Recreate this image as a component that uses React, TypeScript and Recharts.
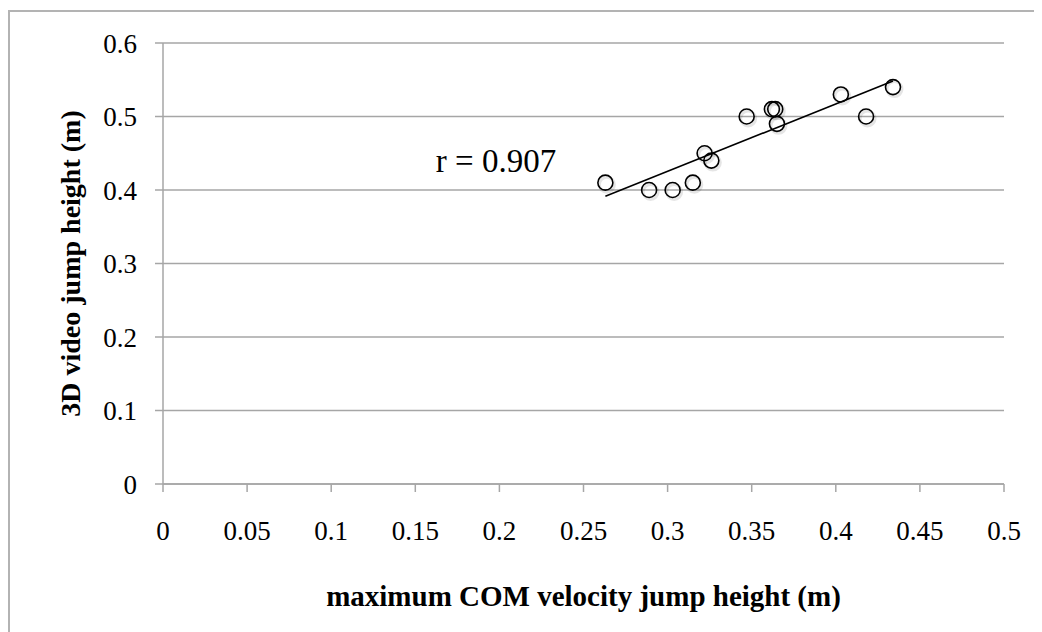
import {
  CartesianGrid,
  Label,
  ReferenceDot,
  Scatter,
  ScatterChart,
  XAxis,
  YAxis,
} from "recharts";

const comHeight = [0.263, 0.289, 0.303, 0.315, 0.322, 0.326, 0.347, 0.362, 0.364, 0.365, 0.403, 0.418, 0.434];
const videoHeight = [0.41, 0.4, 0.4, 0.41, 0.45, 0.44, 0.5, 0.51, 0.51, 0.49, 0.53, 0.5, 0.54];

const xTicks = [0, 0.05, 0.1, 0.15, 0.2, 0.25, 0.3, 0.35, 0.4, 0.45, 0.5];
const yTicks = [0, 0.1, 0.2, 0.3, 0.4, 0.5, 0.6];

const rLabel = "r = 0.907";

const FONT = "'Liberation Serif', 'Times New Roman', serif";
const GRID = "#a6a6a6";

const points = comHeight.map((x, i) => ({ x, y: videoHeight[i] }));

// least squares trend line through the points
function trend() {
  const n = comHeight.length;
  const mx = comHeight.reduce((a, b) => a + b, 0) / n;
  const my = videoHeight.reduce((a, b) => a + b, 0) / n;
  let sxy = 0;
  let sxx = 0;
  comHeight.forEach((x, i) => {
    sxy += (x - mx) * (videoHeight[i] - my);
    sxx += (x - mx) * (x - mx);
  });
  const slope = sxy / sxx;
  const lo = Math.min(...comHeight);
  const hi = Math.max(...comHeight);
  return [
    { x: lo, y: my + slope * (lo - mx) },
    { x: hi, y: my + slope * (hi - mx) },
  ];
}

const Ring = (props: any) => (
  <g>
    <circle cx={props.cx + 1.5} cy={props.cy + 2} r={7.5} fill="none" stroke="#000" strokeOpacity={0.1} strokeWidth={3} />
    <circle cx={props.cx} cy={props.cy} r={7.5} fill="none" stroke="#000" strokeWidth={1.6} />
  </g>
);

export default function App() {
  return (
    <div style={{ position: "relative", width: 1034, height: 624, fontFamily: FONT }}>
      <div
        style={{
          position: "absolute",
          top: 2,
          left: 0,
          width: 1034,
          height: 622,
          borderTop: "2px solid #b3b3b3",
          borderLeft: "2px solid #b3b3b3",
          boxSizing: "border-box",
        }}
      />
      <ScatterChart
        width={1034}
        height={624}
        margin={{ top: 35, right: 38, bottom: 88, left: 0 }}
        style={{ position: "absolute", top: 0, left: 0 }}
      >
        <CartesianGrid vertical={false} stroke={GRID} strokeWidth={1.5} />
        <XAxis
          type="number"
          dataKey="x"
          domain={[0, 0.5]}
          ticks={xTicks}
          height={60}
          tickSize={8}
          tickMargin={29}
          stroke={GRID}
          strokeWidth={1.5}
          tick={{ fill: "#000", fontSize: 27, fontFamily: FONT }}
          interval={0}
        >
          <Label
            content={({ viewBox }: any) => (
              <text
                x={viewBox.x + viewBox.width / 2}
                y={598}
                textAnchor="middle"
                fontSize={29}
                fontWeight="bold"
                fontFamily={FONT}
                fill="#000"
              >
                maximum COM velocity jump height (m)
              </text>
            )}
          />
        </XAxis>
        <YAxis
          type="number"
          dataKey="y"
          domain={[0, 0.6]}
          ticks={yTicks}
          width={155}
          tickSize={8}
          tickMargin={18}
          stroke={GRID}
          strokeWidth={1.5}
          tick={{ fill: "#000", fontSize: 27, fontFamily: FONT }}
          interval={0}
        >
          <Label
            content={({ viewBox }: any) => {
              const cx = 62;
              const cy = viewBox.y + viewBox.height / 2;
              return (
                <text
                  x={cx}
                  y={cy}
                  transform={`rotate(-90 ${cx} ${cy})`}
                  textAnchor="middle"
                  dominantBaseline="central"
                  fontSize={28}
                  fontWeight="bold"
                  fontFamily={FONT}
                  fill="#000"
                >
                  3D video jump height (m)
                </text>
              );
            }}
          />
        </YAxis>
        <Scatter
          data={trend()}
          line={{ stroke: "#000", strokeWidth: 1.6 }}
          shape={() => <g />}
          isAnimationActive={false}
        />
        <Scatter data={points} shape={Ring} isAnimationActive={false} />
        <ReferenceDot
          x={0.198}
          y={0.44}
          r={0}
          fill="none"
          stroke="none"
          label={{ value: rLabel, position: "center", fontSize: 33, fill: "#000", fontFamily: FONT }}
        />
      </ScatterChart>
    </div>
  );
}
